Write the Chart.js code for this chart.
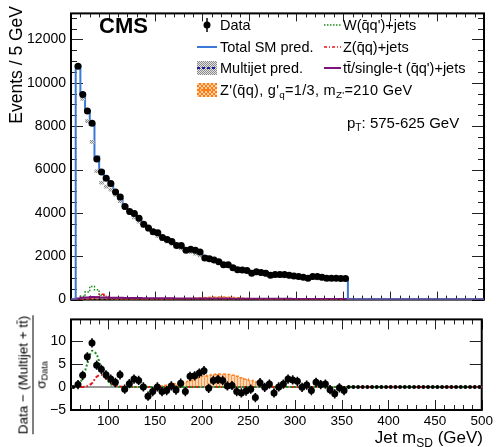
<!DOCTYPE html>
<html lang="en"><head><meta charset="utf-8"><title>Jet mSD</title>
<script src="https://cdn.jsdelivr.net/npm/chart.js@4.4.1/dist/chart.umd.min.js"></script>
<style>
html,body{margin:0;padding:0;background:#fff;}
body{width:496px;height:447px;position:relative;overflow:hidden;font-family:"Liberation Sans",Arial,Helvetica,sans-serif;color:#000;}
canvas{position:absolute;left:0;}
.t{position:absolute;white-space:nowrap;line-height:1;}
.lg{font-size:14.5px;}
.sub{font-size:0.68em;position:relative;top:0.32em;}
</style></head>
<body>
<canvas id="mainChart" style="top:0;width:496px;height:313px" width="496" height="313"></canvas>
<canvas id="ratioChart" style="top:306px;width:496px;height:141px" width="496" height="141"></canvas>

<div class="t" style="left:99px;top:15px;font-size:22px;font-weight:bold">CMS</div>
<div class="t lg" style="left:220px;top:18px">Data</div>
<div class="t lg" style="left:220px;top:40px">Total SM pred.</div>
<div class="t lg" style="left:220px;top:61px">Multijet pred.</div>
<div class="t lg" style="left:220px;top:83px;letter-spacing:0.3px">Z'(q̄q), g'<span class="sub">q</span>=1/3, m<span class="sub">Z'</span>=210 GeV</div>
<div class="t lg" style="left:343px;top:18px">W(q̄q')+jets</div>
<div class="t lg" style="left:343px;top:40px">Z(q̄q)+jets</div>
<div class="t lg" style="left:343px;top:61px">tt̄/single-t (q̄q')+jets</div>
<div class="t" style="left:347px;top:115px;font-size:15px">p<span class="sub">T</span>: 575-625 GeV</div>
<div class="t" style="left:8px;top:206px;width:200px;text-align:right;font-size:17.5px;transform-origin:0 0;transform:rotate(-90deg)">Events / 5 GeV</div>
<div class="t" style="right:13px;top:429px;font-size:17px">Jet m<span class="sub" style="font-size:12px">SD</span> (GeV)</div>
<div class="t" style="left:32px;top:375px;transform:translate(-50%,-50%) rotate(-90deg);display:flex;flex-direction:column;align-items:center;font-size:13.5px">
  <div style="padding-bottom:2px">Data − (Multijet + tt̄)</div>
  <div style="align-self:stretch;border-top:1px solid #000"></div>
  <div style="padding-top:1px">σ<span class="sub">Data</span></div>
</div>

<script>
// ---------------- data ----------------
const binCenters = [67.5,72.5,77.5,82.5,87.5,92.5,97.5,102.5,107.5,112.5,117.5,122.5,127.5,132.5,137.5,142.5,147.5,152.5,157.5,162.5,167.5,172.5,177.5,182.5,187.5,192.5,197.5,202.5,207.5,212.5,217.5,222.5,227.5,232.5,237.5,242.5,247.5,252.5,257.5,262.5,267.5,272.5,277.5,282.5,287.5,292.5,297.5,302.5,307.5,312.5,317.5,322.5,327.5,332.5,337.5,342.5,347.5,352.5];
const emptyBinCenters = [62.5,357.5,362.5,367.5,372.5,377.5,382.5,387.5,392.5,397.5,402.5,407.5,412.5,417.5,422.5,427.5,432.5,437.5,442.5,447.5,452.5,457.5,462.5,467.5,472.5,477.5,482.5,487.5,492.5,497.5];

const dataCounts = [10760,9460,8700,8130,6480,5890,5600,5360,4960,4730,
  4290,4060,3970,3750,3480,3300,3130,3080,2860,2770,
  2680,2500,2500,2280,2320,2280,2190,1920,1880,1830,
  1740,1610,1610,1470,1380,1360,1340,1210,1290,1250,
  1210,1120,1160,1160,1160,1120,1090,1070,1030,980,
  1070,1070,1030,980,980,990,970,975];

const multijetPred = [10717,9262,8230,7275,5920,5390,5215,5075,4825,4545,
  4231,3986,3791,3594,3397,3220,3062,2926,2798,2680,
  2572,2463,2365,2276,2198,2119,2040,1951,1872,1794,
  1715,1636,1557,1479,1410,1352,1303,1254,1214,1185,
  1156,1127,1108,1090,1070,1056,1042,1028,1014,1000,
  985,976,967,959,955,951,946,942];

const wJets = [30,150,350,600,450,200,90,35,20,15,
  13,12,11,10,10,9,9,8,8,8,
  7,7,7,7,6,6,6,6,6,5,
  5,5,5,5,5,4,4,4,4,4,
  4,4,4,3,3,3,3,3,3,3,
  3,3,3,2,2,2,2,2];

const zJets = [3,8,20,60,120,250,150,50,20,10,
  8,7,6,6,5,5,5,4,4,4,
  4,4,3,3,3,3,3,3,3,3,
  3,3,3,2,2,2,2,2,2,2,
  2,2,2,2,2,2,2,2,2,2,
  2,2,2,2,2,2,2,2];

const ttSingleT = [50,80,100,115,110,100,95,90,85,80,
  78,75,72,70,68,66,64,62,60,58,
  57,56,55,54,53,52,51,50,49,48,
  47,46,45,44,43,42,41,40,40,39,
  38,37,36,35,35,34,33,32,31,30,
  30,29,28,27,26,25,25,24];

const zPrimeSignal = [0,5,10,15,15,12,10,8,6,5,
  4,4,3,3,3,3,3,4,
  5,10,15,25,35,45,60,75,90,105,115,125,130,128,120,110,95,80,65,50,35,25,15,8,4,
  0,0,0,0,0,0,0,0,0,0,0,0,0,0,0];

const ratioPull = [0.5,2.5,6.5,9.5,4.7,3.8,2.6,1.7,1.0,2.6,
  -0.5,0.7,1.7,1.4,0,-2.0,-1.0,0,-1.0,-0.8,
  0.2,-0.7,0.8,-1.0,2.3,2.4,3.0,3.5,-0.3,1.4,
  1.6,1.4,0.2,0.3,-1.0,-1.3,-0.9,-0.5,-2.3,0.9,
  -0.1,0.6,-1.3,0,0.6,1.7,1.5,1.2,-0.1,0.4,
  -0.8,1.0,0.5,0.6,-0.6,-1.5,-0.2,-0.8];
const emptyBinPull = [0,0,0,0,0,0,0,0,0,0,0,0,0,0,0,0,0,0,0,0,0,0,0,0,0,0,0,0,0,0];

const ratioW = [0.3,2.0,5.0,7.8,7.0,4.0,2.0,0.6,0.1,0,
  0,0,0,0,0,0,0,0,0,0,0,0,0,0,0,0,0,0,0,0,
  0,0,0,0,0,0,0,0,0,0,0,0,0,0,0,0,0,0,0,0,
  0,0,0,0,0,0,0,0];
const ratioZ = [0,0,0.2,0.8,2.2,2.6,1.8,0.8,0.3,0.1,
  0,0,0,0,0,0,0,0,0,0,0,0,0,0,0,0,0,0,0,0,
  0,0,0,0,0,0,0,0,0,0,0,0,0,0,0,0,0,0,0,0,
  0,0,0,0,0,0,0,0];
const ratioSignal = [0,0,0,0,0,0,0,0,0,0,0,0,0,0,0,0,0,0,
  0.2,0.35,0.5,0.7,0.9,1.1,1.4,1.7,2.0,2.3,2.5,2.7,2.8,2.8,2.7,2.5,2.3,2.0,1.7,1.4,1.1,0.8,0.5,0.3,0.1,
  0,0,0,0,0,0,0,0,0,0,0,0,0,0,0];

const yTicksMain = [0,2000,4000,6000,8000,10000,12000];
const xTickLabels = [100,150,200,250,300,350,400,450,500];
const yTicksRatio = [-5,0,5,10];

// ---------------- helpers ----------------
const X_MIN = 60, X_MAX = 500, HALF_BIN = 2.5;
const FONT = "'Liberation Sans', Arial, Helvetica, sans-serif";
const BLUE = '#3b78d8', GREEN = '#1f8f1f', RED = '#e8141c', PURPLE = '#7b137b', ORANGE = '#ff7f1e', NAVY = '#1a1a9a';

function histPoints(values) {
  const pts = [{x: X_MIN, y: 0}];
  values.forEach((v, i) => pts.push({x: binCenters[i] - HALF_BIN, y: v}));
  pts.push({x: binCenters[binCenters.length - 1] + HALF_BIN, y: 0});
  pts.push({x: X_MAX, y: 0});
  return pts;
}
function curvePoints(values) {
  const pts = [{x: X_MIN, y: 0}];
  values.forEach((v, i) => pts.push({x: binCenters[i], y: v}));
  pts.push({x: X_MAX, y: 0});
  return pts;
}
function makePattern(w, h, bg, fg, cells) {
  const c = document.createElement('canvas'); c.width = w; c.height = h;
  const g = c.getContext('2d'); g.fillStyle = bg; g.fillRect(0, 0, w, h);
  g.fillStyle = fg; cells.forEach(([a, b]) => g.fillRect(a, b, 1, 1));
  return g.createPattern(c, 'repeat');
}
const mjPattern = makePattern(2, 2, '#e2e2e2', '#8a8a8a', [[0,0],[1,1]]);
const sigPattern = makePattern(4, 4, '#ffd3a8', '#ff7a10', [[0,0],[1,1],[2,2],[3,3],[3,0],[2,1],[1,2],[0,3]]);
const sigRatioPattern = makePattern(3, 1, '#fdd7b2', '#fa9a52', [[0,0]]);

const totalSM = multijetPred.map((m, i) => m + wJets[i] + zJets[i] + ttSingleT[i]);

function frameTicks(cfg) {
  return {
    id: 'frameTicks',
    beforeDatasetsDraw(chart) {
      const {ctx, chartArea: a, scales: {x, y}} = chart;
      ctx.save();
      ctx.strokeStyle = '#222'; ctx.lineWidth = 1;
      ctx.beginPath();
      for (let v = X_MIN; v <= X_MAX + 1e-6; v += 10) {
        const px = Math.round(x.getPixelForValue(v)) + 0.5;
        const L = (Math.abs(v % 50) < 1e-6) ? cfg.xMaj : cfg.xMin;
        ctx.moveTo(px, a.bottom); ctx.lineTo(px, a.bottom - L);
        ctx.moveTo(px, a.top); ctx.lineTo(px, a.top + L);
      }
      for (let v = cfg.yStart; v <= y.max + 1e-6; v += cfg.yMinorStep) {
        const py = Math.round(y.getPixelForValue(v)) + 0.5;
        const L = (Math.abs(v % cfg.yMajorStep) < 1e-6) ? cfg.yMaj : cfg.yMin;
        if (L <= 0) continue;
        ctx.moveTo(a.left, py); ctx.lineTo(a.left + L, py);
        ctx.moveTo(a.right, py); ctx.lineTo(a.right - L, py);
      }
      ctx.stroke();
      ctx.strokeStyle = '#000'; ctx.lineWidth = 2;
      ctx.strokeRect(a.left, a.top, a.right - a.left, a.bottom - a.top);
      ctx.restore();
    }
  };
}

const ratioErrorBars = {
  id: 'ratioErrorBars',
  beforeDatasetDraw(chart, args) {
    if (args.index !== 0) return;
    const {ctx, scales: {x, y}} = chart;
    ctx.save(); ctx.strokeStyle = '#000'; ctx.lineWidth = 1.6; ctx.beginPath();
    ratioPull.forEach((v, i) => {
      const px = x.getPixelForValue(binCenters[i]);
      ctx.moveTo(px, y.getPixelForValue(v - 1)); ctx.lineTo(px, y.getPixelForValue(v + 1));
    });
    ctx.stroke(); ctx.restore();
  }
};

const legendSymbols = {
  id: 'legendSymbols',
  afterDraw(chart) {
    const ctx = chart.ctx;
    const line = (x1, y1, x2, y2) => { ctx.beginPath(); ctx.moveTo(x1, y1); ctx.lineTo(x2, y2); ctx.stroke(); };
    ctx.save();
    ctx.fillStyle = '#000'; ctx.beginPath(); ctx.arc(207, 25, 3.5, 0, Math.PI * 2); ctx.fill();
    ctx.strokeStyle = '#000'; ctx.lineWidth = 1.5; line(207, 18, 207, 32);
    ctx.strokeStyle = BLUE; ctx.lineWidth = 2; line(197, 47, 217, 47);
    ctx.fillStyle = mjPattern; ctx.fillRect(197, 61, 20, 14);
    ctx.strokeStyle = NAVY; ctx.lineWidth = 2; ctx.setLineDash([3, 2]); line(197, 68, 217, 68);
    ctx.fillStyle = sigPattern; ctx.fillRect(197, 83, 20, 14);
    ctx.strokeStyle = ORANGE; ctx.setLineDash([3, 2]); line(197, 90, 217, 90);
    ctx.strokeStyle = GREEN; ctx.lineWidth = 1.5; ctx.setLineDash([1.5, 1.5]); line(324, 25, 341, 25);
    ctx.strokeStyle = RED; ctx.lineWidth = 1.5; ctx.setLineDash([3, 2, 1, 2]); line(324, 47, 341, 47);
    ctx.strokeStyle = PURPLE; ctx.lineWidth = 2; ctx.setLineDash([]); line(324, 68, 341, 68);
    ctx.restore();
  }
};

Chart.defaults.font.family = FONT;

// ---------------- main chart ----------------
new Chart(document.getElementById('mainChart'), {
  type: 'line',
  data: {
    datasets: [
      { label: 'Data', data: binCenters.map((c, i) => ({x: c, y: dataCounts[i]})), showLine: false,
        pointRadius: 3.5, pointBackgroundColor: '#000', pointBorderWidth: 0, order: 0 },
      { type: 'bar', label: 'Multijet pred.', data: binCenters.map((c, i) => ({x: c, y: [multijetPred[i] - 70, multijetPred[i] + 70]})),
        backgroundColor: mjPattern, borderWidth: 0, barThickness: 4, grouped: false, order: 1 },
      { label: 'Total SM pred.', data: histPoints(totalSM), stepped: true, borderColor: BLUE, borderWidth: 2,
        pointRadius: 0, fill: false, order: 2 },
      { label: 'tt/single-t', data: histPoints(ttSingleT), stepped: true, borderColor: PURPLE, borderWidth: 2,
        pointRadius: 0, fill: false, order: 3 },
      { label: 'Z+jets', data: histPoints(zJets), stepped: true, borderColor: RED, borderWidth: 1.5,
        borderDash: [4, 2, 1, 2], pointRadius: 0, fill: false, order: 4 },
      { label: 'W+jets', data: histPoints(wJets), stepped: true, borderColor: GREEN, borderWidth: 1.5,
        borderDash: [1.5, 1.5], pointRadius: 0, fill: false, order: 5 },
      { label: "Z'", data: histPoints(zPrimeSignal), stepped: true, borderColor: ORANGE, borderWidth: 1,
        borderDash: [3, 2], backgroundColor: sigPattern, pointRadius: 0, fill: 'origin', order: 6 }
    ]
  },
  options: {
    responsive: false, animation: false, events: [],
    layout: { padding: { top: 7, right: 12, left: 0, bottom: 0 } },
    plugins: { legend: { display: false }, tooltip: { enabled: false } },
    scales: {
      x: { type: 'linear', min: X_MIN, max: X_MAX, offset: false, ticks: { display: false },
           grid: { display: false, drawTicks: false, offset: false }, border: { display: false },
           afterFit(s) { s.height = 10; } },
      y: { type: 'linear', min: 0, max: 13200,
           afterBuildTicks(s) { s.ticks = yTicksMain.map(v => ({value: v})); },
           ticks: { color: '#000', font: { size: 14, family: FONT }, padding: 5, callback: v => String(v) },
           grid: { display: false, drawTicks: false }, border: { display: false },
           afterFit(s) { s.width = 71; } }
    }
  },
  plugins: [frameTicks({xMaj: 8, xMin: 4, yStart: 0, yMinorStep: 500, yMajorStep: 2000, yMaj: 12, yMin: 6}), legendSymbols]
});

// ---------------- ratio chart ----------------
new Chart(document.getElementById('ratioChart'), {
  type: 'line',
  data: {
    datasets: [
      { label: 'pull', data: binCenters.map((c, i) => ({x: c, y: ratioPull[i]})), showLine: false,
        pointRadius: 3.5, pointBackgroundColor: '#000', pointBorderWidth: 0, order: 0 },
      { label: 'empty', data: emptyBinCenters.map((c, i) => ({x: c, y: emptyBinPull[i]})), showLine: false,
        pointRadius: 2, pointBackgroundColor: '#000', pointBorderWidth: 0, order: 1 },
      { label: 'W', data: curvePoints(ratioW), borderColor: GREEN, borderWidth: 2, borderDash: [2, 2],
        tension: 0.3, pointRadius: 0, fill: false, order: 2 },
      { label: 'Z', data: curvePoints(ratioZ), borderColor: RED, borderWidth: 2, borderDash: [4, 2, 1.5, 2],
        tension: 0.3, pointRadius: 0, fill: false, order: 3 },
      { label: 'zero', data: [{x: X_MIN, y: 0}, {x: X_MAX, y: 0}], borderColor: '#999', borderWidth: 2,
        pointRadius: 0, fill: false, order: 4 },
      { label: "Z' ratio", data: histPoints(ratioSignal), stepped: true, borderColor: ORANGE, borderWidth: 1.5,
        borderDash: [3, 2], backgroundColor: sigRatioPattern, pointRadius: 0, fill: 'origin', order: 5 }
    ]
  },
  options: {
    responsive: false, animation: false, events: [],
    layout: { padding: { top: 10, right: 12, left: 0, bottom: 0 } },
    plugins: { legend: { display: false }, tooltip: { enabled: false } },
    scales: {
      x: { type: 'linear', min: X_MIN, max: X_MAX, offset: false,
           afterBuildTicks(s) { s.ticks = xTickLabels.map(v => ({value: v})); },
           ticks: { color: '#000', font: { size: 13.5, family: FONT }, padding: 3, autoSkip: false, maxRotation: 0,
                    callback: v => String(v) },
           grid: { display: false, drawTicks: false }, border: { display: false },
           afterFit(s) { s.height = 37; } },
      y: { type: 'linear', min: -5, max: 14.6,
           afterBuildTicks(s) { s.ticks = yTicksRatio.map(v => ({value: v})); },
           ticks: { color: '#000', font: { size: 14, family: FONT }, padding: 5,
                    callback: v => (v < 0 ? '\u2212' + Math.abs(v) : String(v)) },
           grid: { display: false, drawTicks: false }, border: { display: false },
           afterFit(s) { s.width = 71; } }
    }
  },
  plugins: [frameTicks({xMaj: 10, xMin: 5, yStart: -5, yMinorStep: 1, yMajorStep: 5, yMaj: 12, yMin: 0}), ratioErrorBars]
});
</script>
</body></html>
